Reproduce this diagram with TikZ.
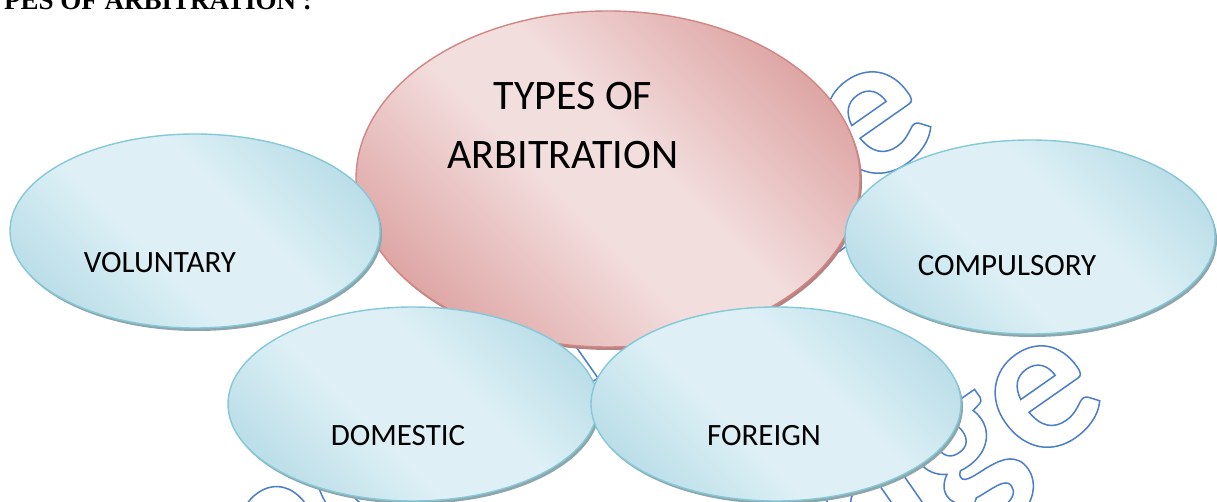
\documentclass[tikz,border=0pt]{standalone}
\usepackage{fontspec}
\setmainfont{Carlito}
\newfontfamily\titlefont{Liberation Serif}
\newfontfamily\wmfont{Carlito}
\usetikzlibrary{shapes.geometric,shadows}
\definecolor{bdark}{RGB}{164,210,223}
\definecolor{blight}{RGB}{222,240,246}
\definecolor{bbord}{RGB}{133,200,216}
\definecolor{bshad}{RGB}{140,166,172}
\definecolor{pdark}{RGB}{214,146,144}
\definecolor{plight}{RGB}{243,222,222}
\definecolor{pbord}{RGB}{210,134,132}
\definecolor{pshad}{RGB}{180,132,132}
\definecolor{wmblue}{RGB}{74,126,201}
\pgfdeclarehorizontalshading{blueband}{100bp}{color(0bp)=(bdark); color(12bp)=(bdark); color(42bp)=(blight); color(58bp)=(blight); color(88bp)=(bdark); color(100bp)=(bdark)}
\pgfdeclarehorizontalshading{pinkband}{100bp}{color(0bp)=(pdark); color(17bp)=(pdark); color(45bp)=(plight); color(55bp)=(plight); color(83bp)=(pdark); color(100bp)=(pdark)}
\newcommand{\outlinetext}[1]{\special{pdf:literal direct 1 Tr 1.5 w}#1\special{pdf:literal direct 0 Tr}}
\tikzset{
  bubble/.style={ellipse, inner sep=0pt, line width=1.4pt, minimum width=370pt, minimum height=194pt,
    draw=bbord, shading=blueband, shading angle=45,
    drop shadow={shadow xshift=2pt, shadow yshift=-3pt, fill=bshad, opacity=1}},
  hub/.style={ellipse, inner sep=0pt, line width=1.4pt, minimum width=504pt, minimum height=336pt,
    draw=pbord, shading=pinkband, shading angle=45,
    drop shadow={shadow xshift=2pt, shadow yshift=-3pt, fill=pshad, opacity=1}},
  lbl/.style={inner sep=0pt, font=\fontsize{31}{37}\selectfont},
  hublbl/.style={inner sep=0pt, font=\fontsize{42}{50}\selectfont},
  wm/.style={inner sep=0pt, rotate=35, anchor=base east, text=wmblue, font=\wmfont\bfseries\fontsize{205}{205}\selectfont}
}
\begin{document}
\begin{tikzpicture}[x=1pt,y=-1pt]
\useasboundingbox (0,0) rectangle (1217,502);
\clip (0,0) rectangle (1217,502);
\fill[white] (0,0) rectangle (1217,502);
% watermark (outlined text)
\node[wm] (wmA) at (945,135) {\outlinetext{knowledge}};
\node[wm] (wmB) at (1114,409) {\outlinetext{knowledge}};
% title
\node[anchor=base east, inner sep=0pt, font=\titlefont\bfseries\fontsize{27}{30}\selectfont] (title) at (312,10) {TYPES OF ARBITRATION :};
% shapes
\node[hub] (types) at (608,179) {};
\node[bubble] (vol) at (195,231) {};
\node[bubble] (comp) at (1030,237) {};
\node[bubble] (dom) at (413,404) {};
\node[bubble] (for) at (776,404) {};
% texts
\node[hublbl] (t1) at (573,96) {TYPES OF};
\node[hublbl] (t2) at (563,155) {ARBITRATION};
\node[lbl] (voltext) at (160,263) {VOLUNTARY};
\node[lbl] (comptext) at (1007,266) {COMPULSORY};
\node[lbl] (domtext) at (398,436) {DOMESTIC};
\node[lbl] (fortext) at (764,436) {FOREIGN};
\end{tikzpicture}
\end{document}
